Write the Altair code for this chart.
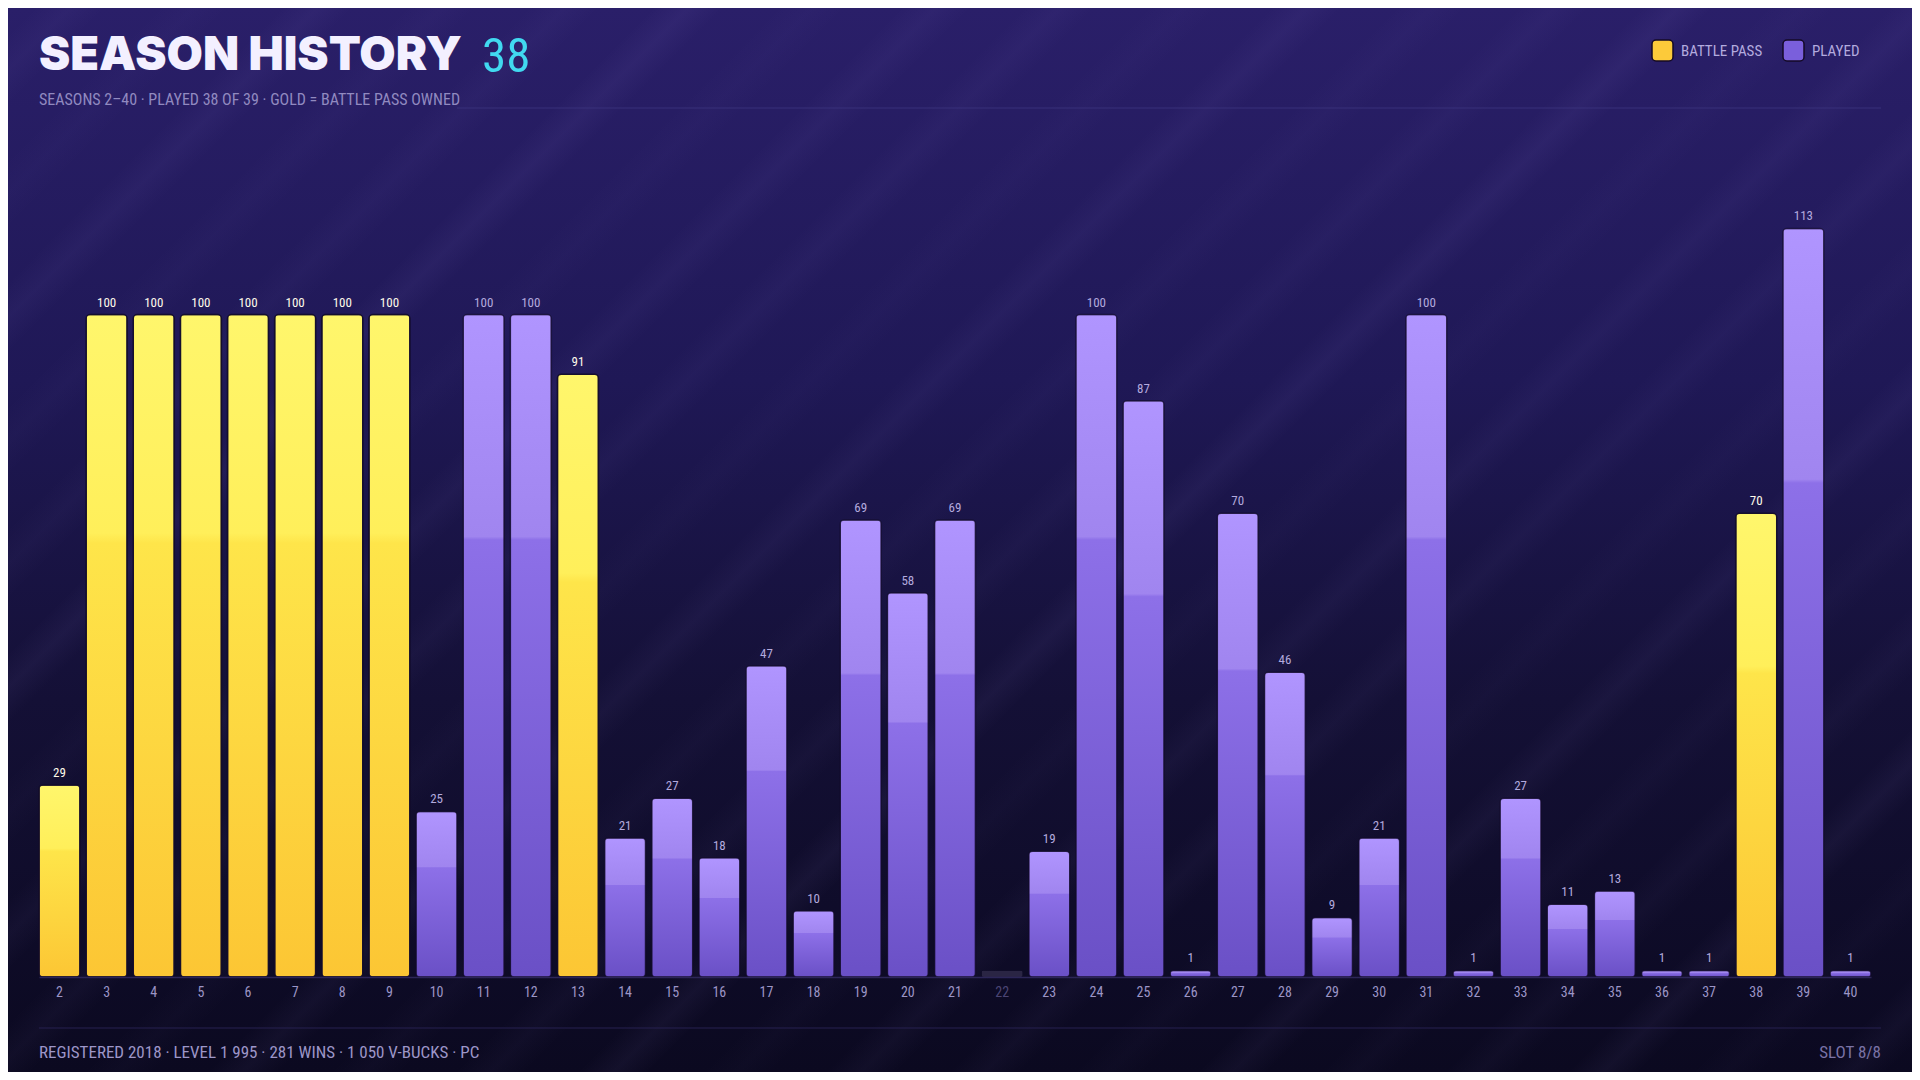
import altair as alt
import pandas as pd

# ---------------- data ----------------
seasons = [str(s) for s in range(2, 41)]
levels = [29, 100, 100, 100, 100, 100, 100, 100, 25, 100,
          100, 91, 21, 27, 18, 47, 10, 69, 58, 69,
          None, 19, 100, 87, 1, 70, 46, 9, 21, 100,
          1, 27, 11, 13, 1, 1, 70, 113, 1]
battle_pass = ["2", "3", "4", "5", "6", "7", "8", "9", "13", "38"]

title_text = "SEASON HISTORY"
title_count = "38"
subtitle = "SEASONS 2–40 · PLAYED 38 OF 39 · GOLD = BATTLE PASS OWNED"
footer_left = "REGISTERED 2018 · LEVEL 1 995 · 281 WINS · 1 050 V-BUCKS · PC"
footer_right = "SLOT 8/8"
legend_labels = ["BATTLE PASS", "PLAYED"]
legend_colors = ["#fcca3a", "#7a5fdc"]

rows = []
for s, v in zip(seasons, levels):
    if v is None:
        kind = "none"
    elif s in battle_pass:
        kind = "bp"
    else:
        kind = "played"
    rows.append({"season": s, "level": v if v is not None else 1,
                 "label": str(v) if v is not None else "", "kind": kind})
df = pd.DataFrame(rows)

# ---------------- layout ----------------
W, H = 1832, 828
PL, PT, PR, PB = 31, 141, 41, 95

COND = "'Roboto Condensed', 'Open Sans Condensed', Roboto, sans-serif"
HEAVY = "Inter, 'Noto Sans Display', Lato, sans-serif"

one = pd.DataFrame({"d": [0]})

# background
bg_grad = alt.Gradient(
    gradient="linear", x1=0, y1=0, x2=0, y2=1,
    stops=[alt.GradientStop(color="#2a1f69", offset=0),
           alt.GradientStop(color="#1f1856", offset=0.35),
           alt.GradientStop(color="#141036", offset=0.65),
           alt.GradientStop(color="#0b0920", offset=1)])
bg = alt.Chart(one).mark_rect(fill=bg_grad).encode(
    x=alt.value(-PL), x2=alt.value(W + PR), y=alt.value(-PT), y2=alt.value(H + PB))

# diagonal stripes overlay (decorative)
stripe_stops = []
n_str = 24
alphas = [0.035, 0.02, 0.045, 0.025, 0.03, 0.05, 0.02, 0.04]
for i in range(n_str):
    c = (i + 0.5) / n_str
    w = 0.012
    a = alphas[i % len(alphas)]
    stripe_stops += [
        alt.GradientStop(color="rgba(180,160,255,0)", offset=max(0.0, c - w)),
        alt.GradientStop(color=f"rgba(180,160,255,{a})", offset=c),
        alt.GradientStop(color="rgba(180,160,255,0)", offset=min(1.0, c + w)),
    ]
stripe_grad = alt.Gradient(gradient="linear", x1=0, y1=0, x2=1.188, y2=0.664, stops=stripe_stops)
stripes = alt.Chart(one).mark_rect(fill=stripe_grad).encode(
    x=alt.value(-PL), x2=alt.value(W + PR), y=alt.value(-PT), y2=alt.value(H + PB))

# bars
x_enc = alt.X(
    "season:N", sort=seasons,
    scale=alt.Scale(paddingInner=0.13, paddingOuter=0),
    axis=alt.Axis(title=None, labelAngle=0, ticks=False, grid=False, zindex=1,
                  domain=True, domainColor="#2c2658", domainWidth=1.5,
                  labelFont=COND, labelFontSize=14, labelPadding=8,
                  labelColor=alt.expr("datum.value == '22' ? '#4b4574' : '#9c95c6'")))
y_enc = alt.Y("level:Q", scale=alt.Scale(domain=[0, 125], nice=False, zero=True), axis=None)

gold_grad = alt.Gradient(
    gradient="linear", x1=0, y1=0, x2=0, y2=1,
    stops=[alt.GradientStop(color="#fff66c", offset=0),
           alt.GradientStop(color="#ffef5a", offset=0.33),
           alt.GradientStop(color="#fee54a", offset=0.345),
           alt.GradientStop(color="#fcc634", offset=1)])
purple_grad = alt.Gradient(
    gradient="linear", x1=0, y1=0, x2=0, y2=1,
    stops=[alt.GradientStop(color="#b095ff", offset=0),
           alt.GradientStop(color="#a085ef", offset=0.335),
           alt.GradientStop(color="#8d70e8", offset=0.34),
           alt.GradientStop(color="#6a50c6", offset=1)])

base = alt.Chart(df).encode(x=x_enc, y=y_enc)

bars_bp = base.mark_bar(fill=gold_grad, cornerRadius=4, stroke="#120b2a",
                        strokeWidth=1.5, strokeOpacity=0.9).transform_filter(
    alt.datum.kind == "bp")
bars_pl = base.mark_bar(fill=purple_grad, cornerRadius=4, stroke="#120b2a",
                        strokeWidth=1.5, strokeOpacity=0.6).transform_filter(
    alt.datum.kind == "played")
bars_none = base.mark_bar(fill="#2a2544", cornerRadius=2).transform_filter(
    alt.datum.kind == "none")

labels = base.mark_text(font=COND, fontSize=13, baseline="bottom", dy=-5).encode(
    text="label:N",
    color=alt.condition(alt.datum.kind == "bp", alt.value("#fffbea"), alt.value("#b3aade")),
).transform_filter(alt.datum.kind != "none")

# header
title_mark = alt.Chart(one).mark_text(
    text=title_text, font=HEAVY, fontSize=47, fontWeight=900, align="left",
    baseline="middle", color="#f3f0ff").encode(x=alt.value(0), y=alt.value(-93))
count_mark = alt.Chart(one).mark_text(
    text=title_count, font=COND, fontSize=49, align="left",
    baseline="middle", color="#41d9f0").encode(x=alt.value(443), y=alt.value(-92))
sub_mark = alt.Chart(one).mark_text(
    text=subtitle, font=COND, fontSize=16, align="left",
    baseline="middle", color="#918ac0").encode(x=alt.value(0), y=alt.value(-49))
head_rule = alt.Chart(one).mark_rule(color="#3d3680", strokeWidth=1.2, opacity=0.8).encode(
    x=alt.value(418), x2=alt.value(W + 10), y=alt.value(-41))

# legend
leg_sq1 = alt.Chart(one).mark_rect(fill=legend_colors[0], cornerRadius=4, stroke="#140a26",
                                   strokeWidth=1.5).encode(
    x=alt.value(1613), x2=alt.value(1634), y=alt.value(-109), y2=alt.value(-88))
leg_tx1 = alt.Chart(one).mark_text(text=legend_labels[0], font=COND, fontSize=15, align="left",
                                   baseline="middle", color="#b3abdf").encode(
    x=alt.value(1642), y=alt.value(-98))
leg_sq2 = alt.Chart(one).mark_rect(fill=legend_colors[1], cornerRadius=4, stroke="#140a26",
                                   strokeWidth=1.5).encode(
    x=alt.value(1744), x2=alt.value(1765), y=alt.value(-109), y2=alt.value(-88))
leg_tx2 = alt.Chart(one).mark_text(text=legend_labels[1], font=COND, fontSize=15, align="left",
                                   baseline="middle", color="#b3abdf").encode(
    x=alt.value(1773), y=alt.value(-98))

# footer
foot_rule = alt.Chart(one).mark_rule(color="#262050", strokeWidth=1.2).encode(
    x=alt.value(0), x2=alt.value(W + 10), y=alt.value(879))
foot_left = alt.Chart(one).mark_text(
    text=footer_left, font=COND, fontSize=17, align="left",
    baseline="middle", color="#9d96c8").encode(x=alt.value(0), y=alt.value(904))
foot_right = alt.Chart(one).mark_text(
    text=footer_right, font=COND, fontSize=17, align="right",
    baseline="middle", color="#7a73a6").encode(x=alt.value(W + 10), y=alt.value(904))

chart = alt.layer(
    bg, stripes, bars_none, bars_bp, bars_pl, labels,
    title_mark, count_mark, sub_mark, head_rule,
    leg_sq1, leg_tx1, leg_sq2, leg_tx2,
    foot_rule, foot_left, foot_right,
).properties(
    width=W, height=H,
    autosize=alt.AutoSizeParams(type="none"),
    padding={"left": PL, "top": PT, "right": PR, "bottom": PB},
    background="#0b0920",
).configure_view(stroke=None)

chart.save("out.html", embed_options={"renderer": "svg", "actions": False})
